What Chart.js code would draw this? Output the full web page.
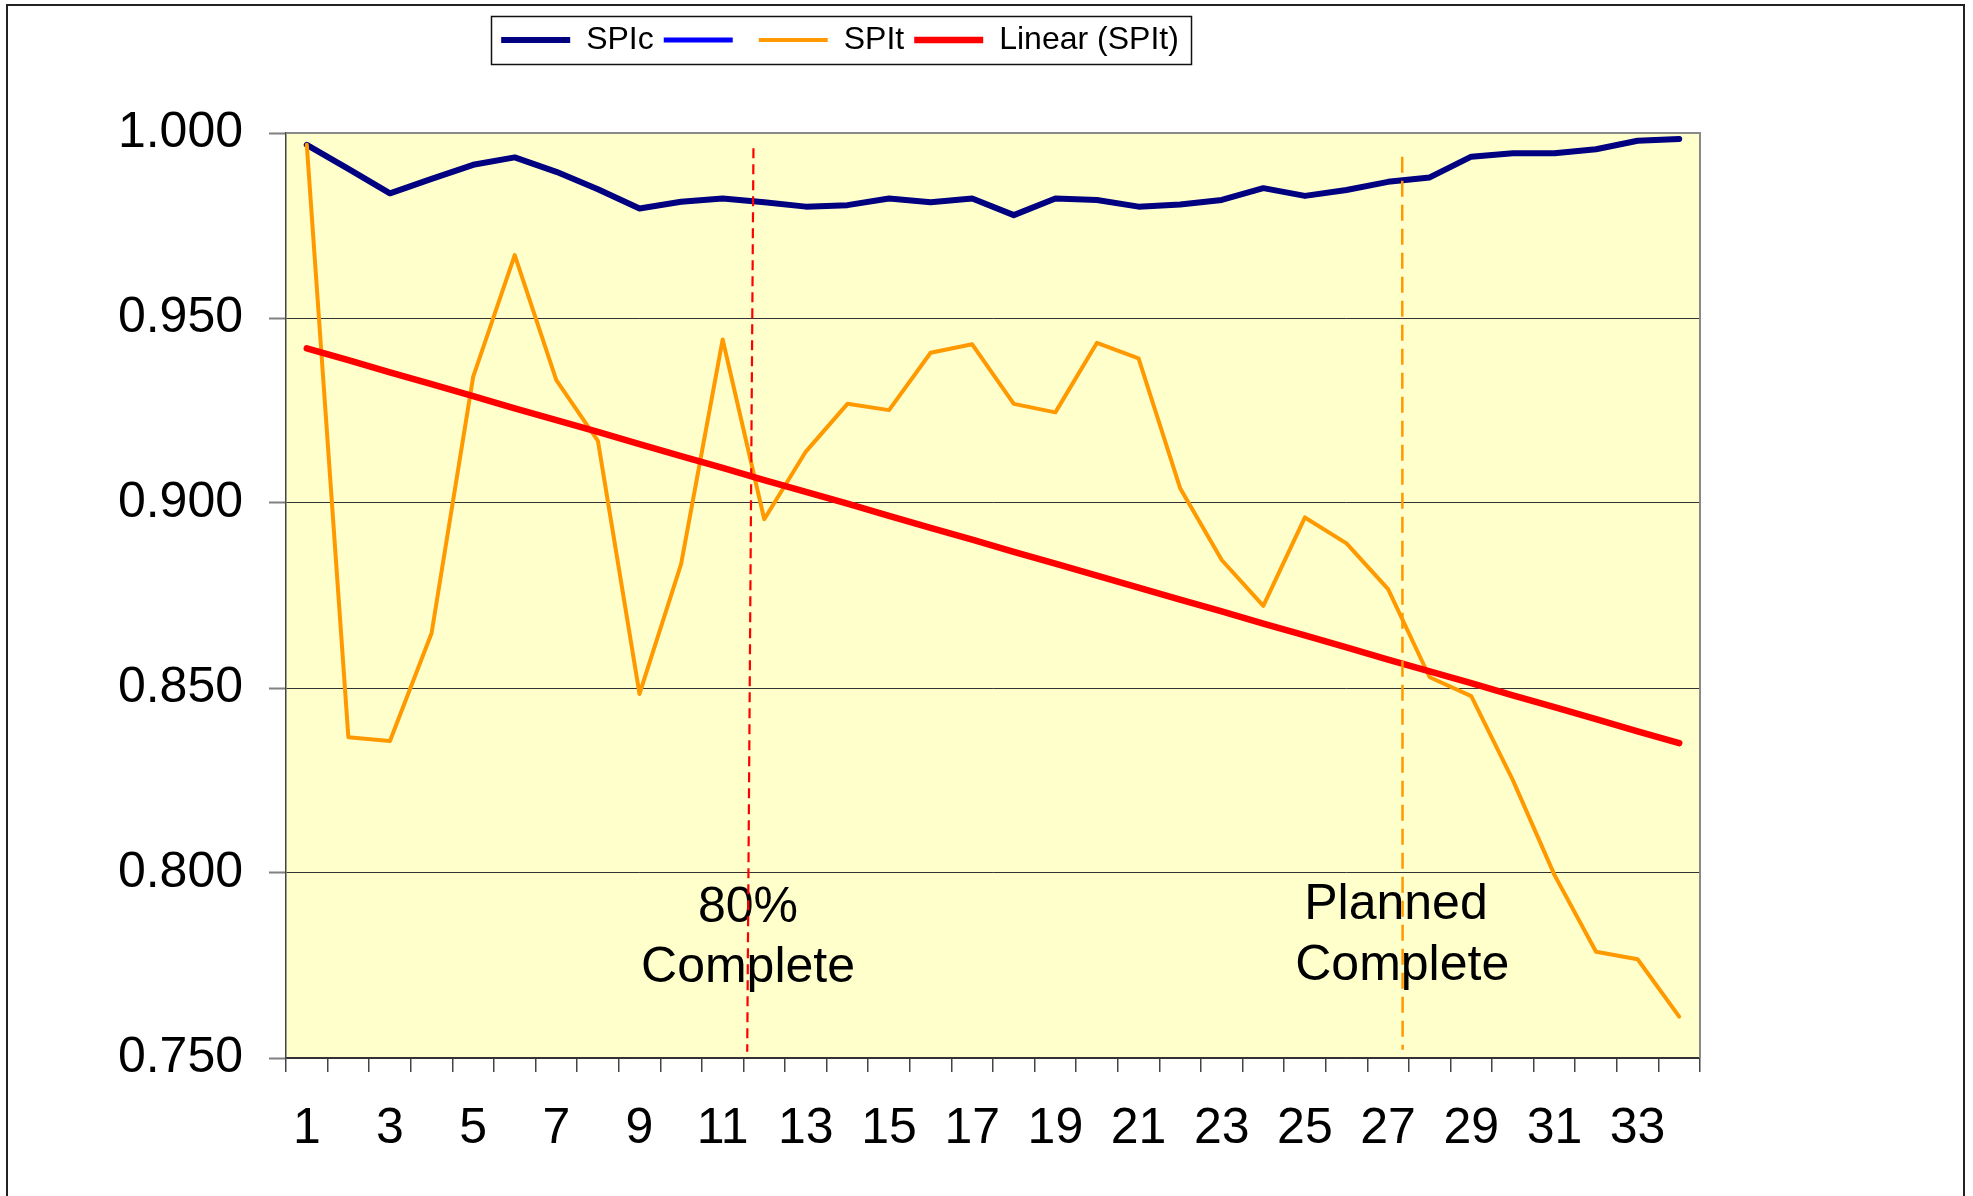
<!DOCTYPE html>
<html>
<head>
<meta charset="utf-8">
<script src="https://cdn.jsdelivr.net/npm/chart.js@4/dist/chart.umd.min.js"></script>
<style>
html,body{margin:0;padding:0;background:#fff;overflow:hidden}
canvas{display:block}
</style>
</head>
<body>
<canvas id="c" width="1973" height="1196"></canvas>
<script>
// ---- data ----
const categories = ['1','2','3','4','5','6','7','8','9','10','11','12','13','14','15','16','17',
  '18','19','20','21','22','23','24','25','26','27','28','29','30','31','32','33','34'];

const spic = [0.9968, 0.9903, 0.9837, 0.9876, 0.9914, 0.9934, 0.9895, 0.9848, 0.9796, 0.9814,
  0.9823, 0.9813, 0.9801, 0.9805, 0.9823, 0.9813, 0.9823, 0.9778, 0.9823, 0.9819,
  0.9801, 0.9807, 0.9819, 0.9851, 0.9830, 0.9846, 0.9868, 0.9880, 0.9936, 0.9945,
  0.9945, 0.9956, 0.9979, 0.9984];

const blankSeries = [];

const spit = [0.9968, 0.8367, 0.8357, 0.8648, 0.9341, 0.9670, 0.9332, 0.9168, 0.8484, 0.8835,
  0.9442, 0.8956, 0.9139, 0.9268, 0.9251, 0.9406, 0.9429, 0.9268, 0.9245, 0.9433,
  0.9391, 0.9040, 0.8846, 0.8722, 0.8961, 0.8891, 0.8767, 0.8529, 0.8478, 0.8251,
  0.7995, 0.7787, 0.7767, 0.7612];

const linearSpit = [0.9418, 0.9386, 0.9353, 0.9321, 0.9289, 0.9256, 0.9224, 0.9192, 0.9159, 0.9127,
  0.9095, 0.9062, 0.9030, 0.8998, 0.8965, 0.8933, 0.8901, 0.8868, 0.8836, 0.8804,
  0.8771, 0.8739, 0.8707, 0.8674, 0.8642, 0.8610, 0.8577, 0.8545, 0.8513, 0.8480,
  0.8448, 0.8416, 0.8383, 0.8351];

const seriesNames = ['SPIc', '', 'SPIt', 'Linear (SPIt)'];
const markerLabels = [['80%', 'Complete'], ['Planned', 'Complete']];

// ---- styling / drawing ----
const FONT = '"Liberation Sans", Arial, Helvetica, sans-serif';

const decor = {
  id: 'decor',
  beforeLayout(chart) {
    const lg = chart.legend;
    if (lg && !lg._patched) {
      const fit = lg.fit;
      lg.fit = function () { fit.call(this); this.height = 119; };
      lg._patched = true;
    }
  },
  afterLayout(chart) {
    const lg = chart.legend;
    if (lg) { lg.left -= 10; lg.right -= 10; }
  },
  beforeDraw(chart) {
    const { ctx, chartArea: a } = chart;
    ctx.save();
    ctx.fillStyle = '#FFFFCC';
    ctx.fillRect(a.left, a.top, a.right - a.left, a.bottom - a.top);
    ctx.strokeStyle = '#222';
    ctx.lineWidth = 2;
    ctx.strokeRect(7, 5, 1957, 1230);
    ctx.restore();
  },
  afterDatasetsDraw(chart) {
    const { ctx, scales: { x, y } } = chart;
    ctx.save();
    // annotation texts
    ctx.font = '50px ' + FONT;
    ctx.fillStyle = '#000';
    ctx.textAlign = 'center';
    ctx.textBaseline = 'alphabetic';
    ctx.fillText(markerLabels[0][0], x.getPixelForValue(10.61), y.getPixelForValue(0.78676));
    ctx.fillText(markerLabels[0][1], x.getPixelForValue(10.61), y.getPixelForValue(0.77054));
    ctx.fillText(markerLabels[1][0], x.getPixelForValue(26.19), y.getPixelForValue(0.78757));
    ctx.fillText(markerLabels[1][1], x.getPixelForValue(26.34), y.getPixelForValue(0.77110));
    // dashed marker lines
    ctx.lineCap = 'butt';
    ctx.strokeStyle = '#FF0000';
    ctx.lineWidth = 2.2;
    ctx.setLineDash([10, 6]);
    ctx.beginPath();
    ctx.moveTo(x.getPixelForValue(10.74), y.getPixelForValue(0.9959));
    ctx.lineTo(x.getPixelForValue(10.59), y.getPixelForValue(0.7517));
    ctx.stroke();
    ctx.strokeStyle = '#FF9900';
    ctx.lineWidth = 2.5;
    ctx.setLineDash([16, 8]);
    ctx.beginPath();
    ctx.moveTo(x.getPixelForValue(26.34), y.getPixelForValue(0.9936));
    ctx.lineTo(x.getPixelForValue(26.35), y.getPixelForValue(0.7522));
    ctx.stroke();
    ctx.restore();
  },
  afterDraw(chart) {
    const { ctx, chartArea: a } = chart;
    ctx.save();
    ctx.strokeStyle = '#8a8a8a';
    ctx.lineWidth = 2;
    ctx.beginPath();
    ctx.moveTo(a.left, a.top);
    ctx.lineTo(a.right, a.top);
    ctx.lineTo(a.right, a.bottom);
    ctx.stroke();
    // legend frame
    const hb = chart.legend && chart.legend.legendHitBoxes;
    if (hb && hb.length) {
      const l = hb[0].left - 10;
      const last = hb[hb.length - 1];
      const r = last.left + last.width + 12;
      ctx.strokeStyle = '#111';
      ctx.lineWidth = 1.5;
      ctx.strokeRect(Math.round(l) + 0.5, 16.5, Math.round(r - l), 48);
    }
    ctx.restore();
  }
};

const common = { fill: false, pointRadius: 0, pointHoverRadius: 0, tension: 0,
  borderCapStyle: 'round', borderJoinStyle: 'round' };

new Chart(document.getElementById('c'), {
  type: 'line',
  data: {
    labels: categories,
    datasets: [
      Object.assign({ label: seriesNames[0], data: spic, borderColor: '#000080', backgroundColor: '#000080', borderWidth: 6, order: 3 }, common),
      Object.assign({ label: seriesNames[1], data: blankSeries, borderColor: '#0000FF', backgroundColor: '#0000FF', borderWidth: 5, order: 2 }, common),
      Object.assign({ label: seriesNames[2], data: spit, borderColor: '#FF9900', backgroundColor: '#FF9900', borderWidth: 4, order: 1 }, common),
      Object.assign({ label: seriesNames[3], data: linearSpit, borderColor: '#FF0000', backgroundColor: '#FF0000', borderWidth: 6.5, order: 0 }, common)
    ]
  },
  options: {
    responsive: false,
    devicePixelRatio: 1,
    animation: false,
    events: [],
    layout: { padding: { top: 14, left: 0, right: 273, bottom: 0 } },
    plugins: {
      tooltip: { enabled: false },
      legend: {
        position: 'top',
        align: 'center',
        labels: {
          usePointStyle: true,
          pointStyle: 'line',
          pointStyleWidth: 69,
          padding: 10,
          color: '#000',
          font: { family: FONT, size: 32 },
          sort: (a, b) => a.datasetIndex - b.datasetIndex
        }
      }
    },
    scales: {
      x: {
        type: 'category',
        offset: true,
        afterFit(scale) { scale.height = 138; },
        grid: { offset: true, drawOnChartArea: false, drawTicks: true, tickLength: 14, color: '#444', lineWidth: 1.5 },
        border: { display: true, color: '#333', width: 1.5 },
        ticks: {
          autoSkip: false, maxRotation: 0, minRotation: 0, padding: 27, color: '#000',
          font: { family: FONT, size: 50 },
          callback: (v, i) => (i % 2 === 0 ? categories[i] : '')
        }
      },
      y: {
        min: 0.75, max: 1.0,
        afterFit(scale) { scale.width = 286; },
        grid: { color: '#333', lineWidth: 1, drawTicks: true, tickLength: 17, tickColor: '#808080', tickWidth: 2 },
        border: { display: true, color: '#444', width: 1.5 },
        ticks: {
          stepSize: 0.05, padding: 26, color: '#000',
          font: { family: FONT, size: 50 },
          callback: (v) => Number(v).toFixed(3)
        }
      }
    }
  },
  plugins: [decor]
});
</script>
</body>
</html>
